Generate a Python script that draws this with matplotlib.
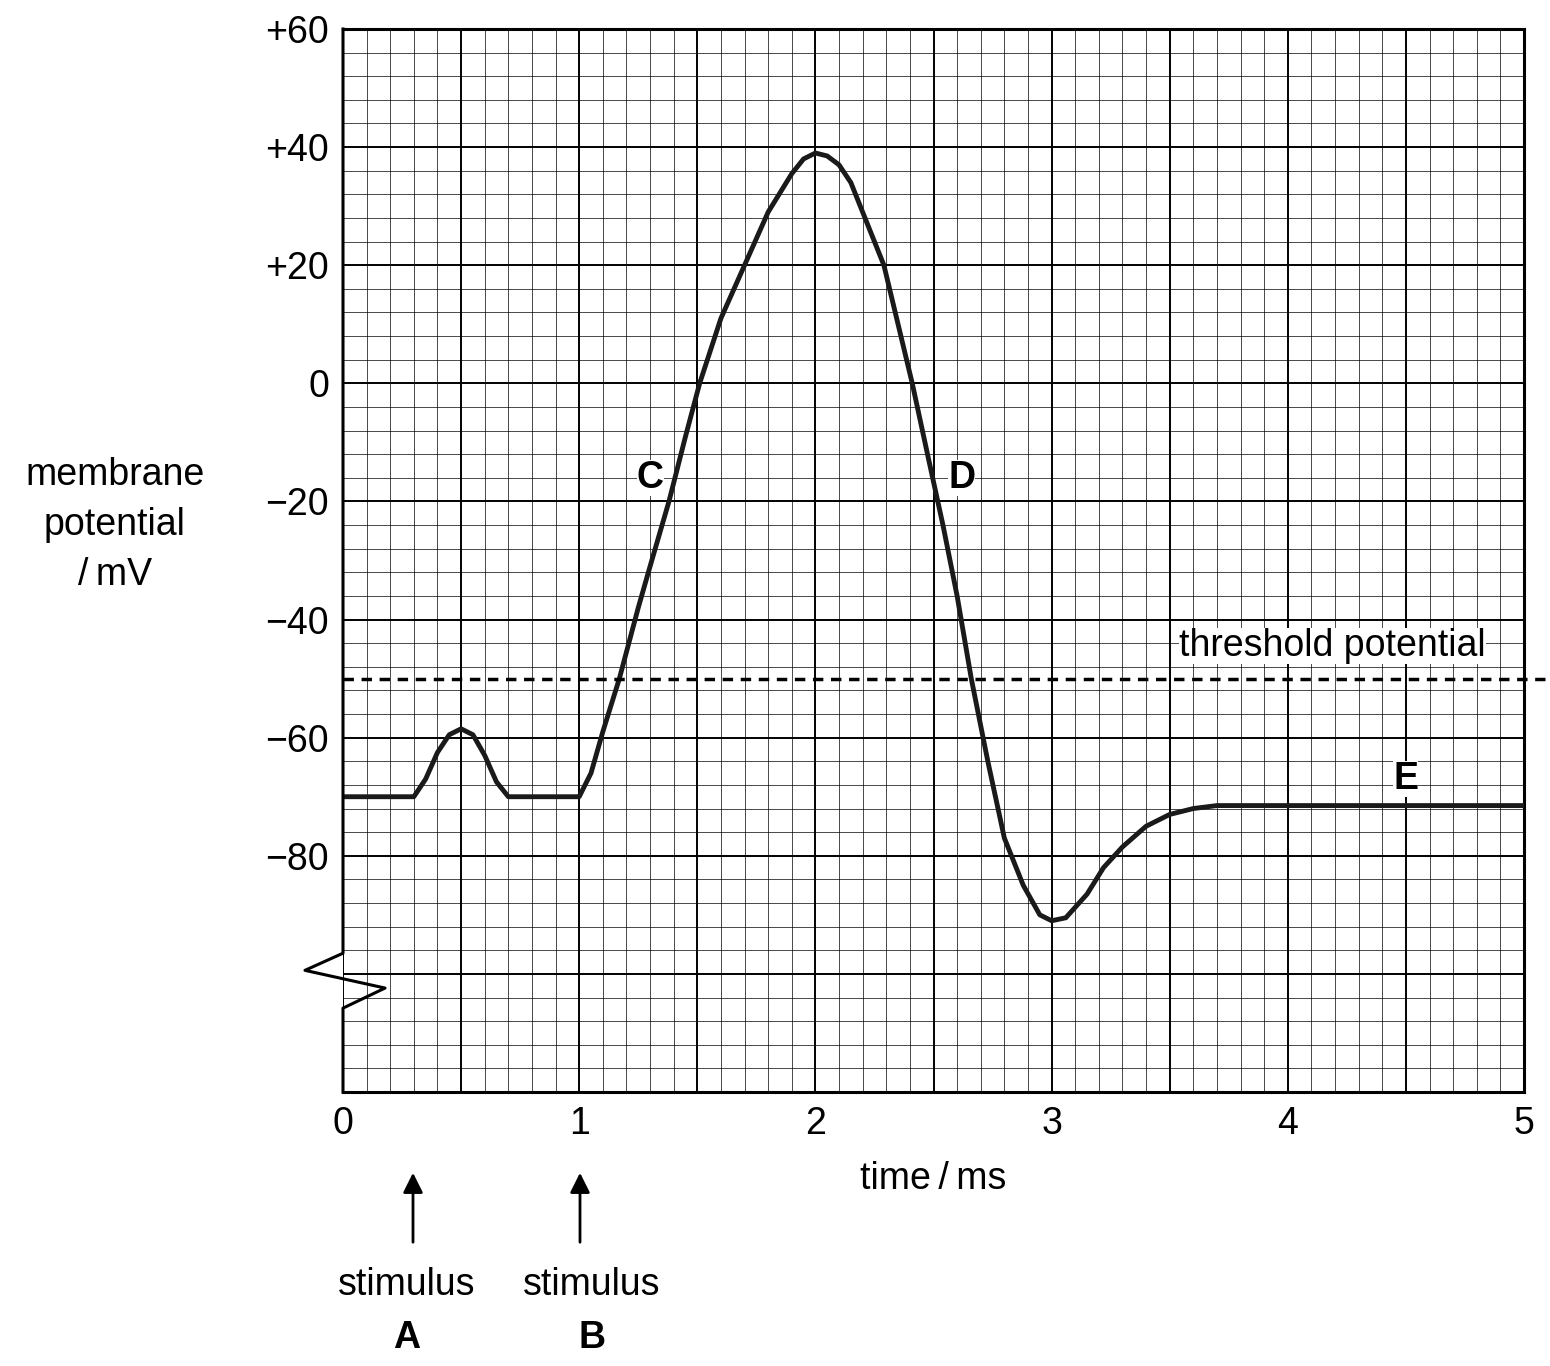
import matplotlib.pyplot as plt
import numpy as np

plt.rcParams['font.family'] = ['Liberation Sans', 'DejaVu Sans']

# membrane potential trace (time ms, potential mV)
time_ms = [0, 0.3, 0.35, 0.4, 0.45, 0.5, 0.55, 0.6, 0.65, 0.7, 1.0, 1.05, 1.1, 1.17, 1.25,
           1.3, 1.38, 1.45, 1.51, 1.6, 1.7, 1.8, 1.9, 1.95, 2.0, 2.05, 2.1, 2.15, 2.22, 2.29,
           2.35, 2.41, 2.48, 2.54, 2.6, 2.66, 2.73, 2.8, 2.88, 2.95, 3.0, 3.06, 3.15, 3.22,
           3.3, 3.4, 3.5, 3.6, 3.7, 5.0]
potential_mv = [-70, -70, -67, -62.5, -59.5, -58.5, -59.5, -63, -67.5, -70, -70, -66, -59, -50, -38,
                -31, -20, -9, 0, 11, 20, 29, 35.5, 38, 39, 38.5, 37, 34, 27, 20,
                10, 0, -13, -24, -36, -50, -64, -77, -85, -90, -91, -90.5, -86.5, -82,
                -78.5, -75, -73, -72, -71.5, -71.5]
threshold = -50
ytick_vals = [60, 40, 20, 0, -20, -40, -60, -80]
ytick_labels = ['+60', '+40', '+20', '0', '\u221220', '\u221240', '\u221260', '\u221280']
xtick_vals = [0, 1, 2, 3, 4, 5]

fig = plt.figure(figsize=(15.5, 13.66), dpi=100)
ax = fig.add_axes([343 / 1550, 1 - 1092 / 1366, 1181 / 1550, 1063 / 1366])
ax.set_xlim(0, 5)
ax.set_ylim(-120, 60)

# graph paper grid
for x in np.arange(0, 5.001, 0.1):
    major = abs(x * 2 - round(x * 2)) < 1e-6
    ax.axvline(x, color='black', lw=1.4 if major else 0.5, zorder=0)
for y in np.arange(-120, 60.001, 4):
    major = abs(y / 20 - round(y / 20)) < 1e-6
    ax.axhline(y, color='black', lw=1.4 if major else 0.5, zorder=0)

ax.plot(time_ms, potential_mv, color='#1a1a1a', lw=3.5, zorder=3)
ax.plot([0, 5.09], [threshold, threshold], color='black', lw=2.5, ls=(0, (3, 2.2)), clip_on=False, zorder=3)
ax.text(4.19, -44.5, 'threshold potential', fontsize=27, ha='center', va='center', zorder=4,
        bbox=dict(facecolor='white', edgecolor='none', pad=0))

for lbl, x, y in [('C', 1.3, -16), ('D', 2.62, -16), ('E', 4.5, -67)]:
    ax.text(x, y, lbl, fontsize=27, fontweight='bold', ha='center', va='center', zorder=4,
            bbox=dict(facecolor='white', edgecolor='none', pad=0))

ax.set_xticks(xtick_vals)
ax.set_xticklabels([str(v) for v in xtick_vals], fontsize=27)
ax.set_yticks(ytick_vals)
ax.set_yticklabels(ytick_labels, fontsize=27)
ax.tick_params(length=0, pad=10)
for s in ['top', 'right', 'bottom']:
    ax.spines[s].set_linewidth(2.2)
ax.spines['left'].set_visible(False)

# broken left axis
ax.plot([0, 0, -0.161, 0.178, 0, 0], [60, -96.5, -99.4, -102.4, -105.8, -120],
        color='black', lw=2.2, clip_on=False, zorder=5)

ax.set_xlabel('time\u2009/\u2009ms', fontsize=27, labelpad=14)
fig.text(115 / 1550, 1 - 525 / 1366, 'membrane\npotential\n/\u2009mV', fontsize=27,
         ha='center', va='center', linespacing=1.5)

for x_px, name in [(413, 'A'), (580, 'B')]:
    fx = x_px / 1550
    ax.annotate('', xy=(fx, 1 - 1170 / 1366), xytext=(fx, 1 - 1245 / 1366),
                xycoords='figure fraction',
                arrowprops=dict(arrowstyle='-|>', color='black', lw=2, mutation_scale=30))
    fig.text(fx - (6 if name == 'A' else -12) / 1550, 1 - 1285 / 1366, 'stimulus', fontsize=27,
             ha='center', va='center')
    fig.text(fx - (6 if name == 'A' else -12) / 1550, 1 - 1338 / 1366, name, fontsize=27,
             fontweight='bold', ha='center', va='center')

fig.savefig('out.png', dpi=100)
